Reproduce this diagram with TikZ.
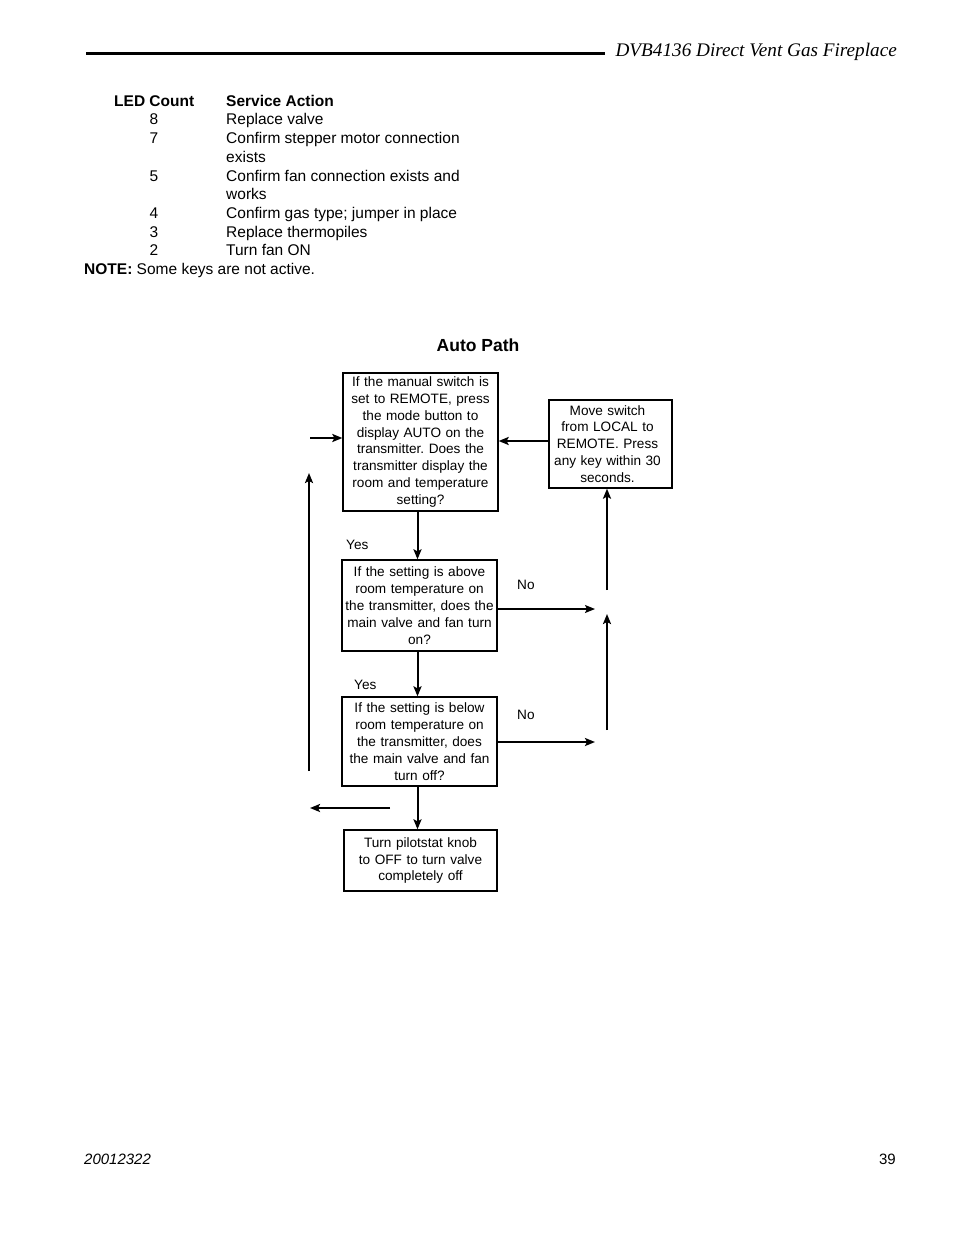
\documentclass[tikz,border=0pt]{standalone}
\usepackage{fontspec}
\setmainfont{Liberation Sans}
\newfontfamily\serifit{Liberation Serif}
\usetikzlibrary{arrows.meta}
\frenchspacing
\begin{document}
\begin{tikzpicture}[x=1pt,y=-1pt,
 box/.style={draw,line width=1.3pt,inner sep=0.5pt,align=center,font=\fontsize{13.6}{16.9}\selectfont},
 arr/.style={line width=2pt,-{Stealth[length=10pt,width=8pt,inset=2pt]}},
 lbl/.style={font=\fontsize{13.6}{15}\selectfont,anchor=west,inner sep=0pt},
 tab/.style={font=\fontsize{15.5}{18}\selectfont,anchor=base west,inner sep=0pt},
 num/.style={font=\fontsize{15.5}{18}\selectfont,anchor=base,inner sep=0pt},
 ]
\useasboundingbox[fill=white] (0,0) rectangle (954,1235);
% header
\coordinate (hl) at (86,53);
\coordinate (hr) at (605,53);
\draw[line width=3pt] (hl) -- (hr);
\node[anchor=base east,inner sep=0pt,font=\serifit\itshape\fontsize{19.2}{24}\selectfont] (title) at (897,56) {DVB4136 Direct Vent Gas Fireplace};
% table
\node[tab,font=\bfseries\fontsize{15.5}{18}\selectfont] (h1) at (114,106) {LED Count};
\node[tab,font=\bfseries\fontsize{15.5}{18}\selectfont] (h2) at (226,106) {Service Action};
\node[num] (n8) at (154,124.5) {8};
\node[tab] (t8) at (226,124.5) {Replace valve};
\node[num] (n7) at (154,143.5) {7};
\node[tab] (t7) at (226,143.5) {Confirm stepper motor connection};
\node[tab] (t7b) at (226,162) {exists};
\node[num] (n5) at (154,181.5) {5};
\node[tab] (t5) at (226,181.5) {Confirm fan connection exists and};
\node[tab] (t5b) at (226,199.5) {works};
\node[num] (n4) at (154,218.5) {4};
\node[tab] (t4) at (226,218.5) {Confirm gas type; jumper in place};
\node[num] (n3) at (154,237.5) {3};
\node[tab] (t3) at (226,237.5) {Replace thermopiles};
\node[num] (n2) at (154,255.5) {2};
\node[tab] (t2) at (226,255.5) {Turn fan ON};
\node[tab] (note) at (84,274.5) {\textbf{NOTE:} Some keys are not active.};
% title
\node[anchor=base,inner sep=0pt,font=\bfseries\fontsize{17.5}{20}\selectfont] (auto) at (478,351.5) {Auto Path};
% boxes
\node[box,text width=154pt,minimum height=138pt] (B1) at (420.5,442) {If the manual switch is\\ set to REMOTE, press\\ the mode button to\\ display AUTO on the\\ transmitter. Does the\\ transmitter display the\\ room and temperature\\ setting?};
\node[box,text width=122pt,minimum height=88pt] (B2) at (610.5,444) {\hspace*{-6pt}Move switch\\ \hspace*{-6pt}from LOCAL to\\ \hspace*{-6pt}REMOTE. Press\\ \hspace*{-6pt}any key within 30\\ \hspace*{-6pt}seconds.};
\node[box,text width=154pt,minimum height=91pt] (B3) at (419.5,605.5) {If the setting is above\\ room temperature on\\ the transmitter, does the\\ main valve and fan turn\\ on?};
\node[box,text width=154pt,minimum height=89pt] (B4) at (419.5,741.5) {If the setting is below\\ room temperature on\\ the transmitter, does\\ the main valve and fan\\ turn off?};
\node[box,text width=152pt,minimum height=61pt] (B5) at (420.5,860.5) {Turn pilotstat knob\\ to OFF to turn valve\\ completely off};
% connectors
\coordinate (inL) at (310,438);
\draw[arr] (inL) -- (B1.west |- inL);
\coordinate (m21) at (549,441);
\draw[arr] (B2.west |- m21) -- (B1.east |- m21);
\coordinate (lvb) at (309,771);
\coordinate (lvt) at (309,473);
\draw[arr] (lvb) -- (lvt);
\coordinate (c1) at (417.5,0);
\draw[arr] (B1.south -| c1) -- (B3.north -| c1);
\draw[arr] (B3.south -| c1) -- (B4.north -| c1);
\draw[arr] (B4.south -| c1) -- (B5.north -| c1);
\coordinate (r1) at (595,609);
\draw[arr,line width=1.3pt] (B3.east |- r1) -- (r1);
\coordinate (r2) at (595,742);
\draw[arr] (B4.east |- r2) -- (r2);
\coordinate (rv1) at (607,590);
\draw[arr] (rv1) -- (B2.south -| rv1);
\coordinate (rv2b) at (607,730);
\coordinate (rv2t) at (607,614);
\draw[arr] (rv2b) -- (rv2t);
\coordinate (lb) at (390,808);
\coordinate (le) at (310,808);
\draw[arr] (lb) -- (le);
% labels
\node[lbl] (y1) at (346,545) {Yes};
\node[lbl] (y2) at (354,685) {Yes};
\node[lbl] (no1) at (517,585) {No};
\node[lbl] (no2) at (517,715) {No};
% footer
\node[anchor=base west,inner sep=0pt,font=\itshape\fontsize{15}{18}\selectfont] (doc) at (84,1164) {20012322};
\node[anchor=base east,inner sep=0pt,font=\fontsize{15}{18}\selectfont] (pg) at (896,1164) {39};
\end{tikzpicture}
\end{document}
